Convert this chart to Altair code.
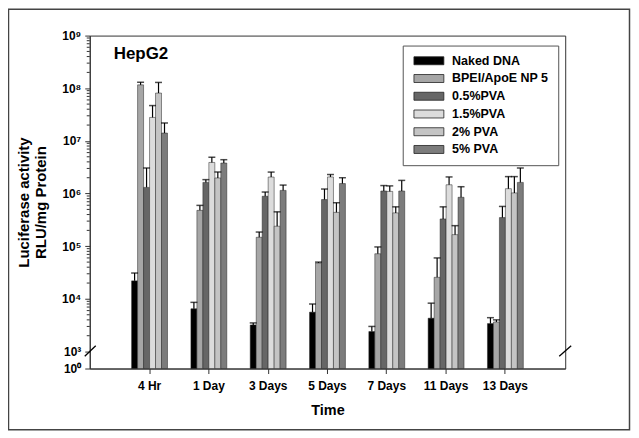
import altair as alt
import pandas as pd

times = ["4 Hr", "1 Day", "3 Days", "5 Days", "7 Days", "11 Days", "13 Days"]
series = ["Naked DNA", "BPEI/ApoE NP 5", "0.5%PVA", "1.5%PVA", "2% PVA", "5% PVA"]
colors = ["#000000", "#a6a6a6", "#666666", "#dcdcdc", "#c4c4c4", "#7c7c7c"]

naked_mean = [2.2e4, 6.5e3, 3.2e3, 5.6e3, 2.4e3, 4.3e3, 3.4e3]
naked_sd = [9.0e3, 2.1e3, 3.0e2, 2.4e3, 6.0e2, 4.0e3, 1.0e3]
bpei_mean = [1.16e8, 4.8e5, 1.48e5, 4.8e4, 7.2e4, 2.57e4, 3.65e3]
bpei_sd = [1.4e7, 1.17e5, 3.8e4, 2.0e3, 2.5e4, 3.43e4, 3.5e2]
pva05_mean = [1.31e6, 1.63e6, 8.9e5, 7.7e5, 1.12e6, 3.3e5, 3.5e5]
pva05_sd = [1.75e6, 2.1e5, 1.8e5, 4.5e5, 3.0e5, 2.3e5, 2.2e5]
pva15_mean = [2.79e7, 3.9e6, 2.06e6, 2.07e6, 1.1e6, 1.47e6, 1.24e6]
pva15_sd = [1.9e7, 1.0e6, 5.0e5, 2.3e5, 3.0e5, 6.0e5, 8.6e5]
pva2_mean = [8.1e7, 1.98e6, 2.4e5, 4.4e5, 4.3e5, 1.66e5, 1.03e6]
pva2_sd = [4.8e7, 5.9e5, 2.1e5, 2.3e5, 1.3e5, 8.0e4, 1.07e6]
pva5_mean = [1.41e7, 3.8e6, 1.15e6, 1.55e6, 1.12e6, 8.5e5, 1.63e6]
pva5_sd = [7.8e6, 6.0e5, 3.0e5, 4.5e5, 6.6e5, 5.0e5, 1.43e6]

means = [naked_mean, bpei_mean, pva05_mean, pva15_mean, pva2_mean, pva5_mean]
sds = [naked_sd, bpei_sd, pva05_sd, pva15_sd, pva2_sd, pva5_sd]

# axis break: 10^0 sits a short gap below 10^3
GAP = 0.322
major_ticks = [0] + [GAP + k for k in range(7)]
major_labels = ["10\u2070", "10\u00b3", "10\u2074", "10\u2075", "10\u2076", "10\u2077", "10\u2078", "10\u2079"]
minor_mult = [2, 3, 4, 5, 6, 7, 8, 9]
minor_decades = [3, 4, 5, 6, 7, 8]

rows = []
for s, m, sd in zip(series, means, sds):
    for t, v, e in zip(times, m, sd):
        rows.append({"time": t, "series": s, "mean": v, "sd": e})
df = pd.DataFrame(rows)

minor_df = pd.DataFrame({"v": [k * 10 ** e for e in minor_decades for k in minor_mult]})

FONT = "Liberation Sans"
W, H = 477, 334

label_expr = "[" + ",".join("'%s'" % l for l in major_labels) + "][datum.value < 0.1 ? 0 : round(datum.value - %s) + 1]" % GAP

yscale = alt.Scale(domain=[0, GAP + 6], nice=False, zero=True)
yaxis = alt.Axis(
    title=["Luciferase activity", "RLU/mg Protein"],
    values=major_ticks, labelExpr=label_expr, tickSize=5, labelPadding=4,
    labelFontSize=12, titleFontSize=15, titlePadding=13,
    labelOverlap=False, labelFlush=False, grid=False,
)
xscale = alt.Scale(paddingInner=0.395, paddingOuter=0.706)
xaxis = alt.Axis(title="Time", labelAngle=0, tickSize=5, labelPadding=7,
                 labelFontSize=12, titleFontSize=14.5, titlePadding=12, grid=False)


def X():
    return alt.X("time:N", sort=times, scale=xscale, axis=xaxis)


def XO():
    return alt.XOffset("series:N", sort=series, scale=alt.Scale(paddingInner=0, paddingOuter=0))


def Y(field):
    return alt.Y(field, scale=yscale, axis=yaxis)


base = alt.Chart(df).transform_calculate(
    d="log(datum.mean)/LN10 - 3 + %s" % GAP,
    dhi="log(datum.mean + datum.sd)/LN10 - 3 + %s" % GAP,
)

legend = alt.Legend(
    title=None, orient="none", legendX=314, legendY=10,
    symbolType="M-3.75,-1H3.75V1H-3.75Z", symbolSize=64,
    symbolStrokeColor="#222", symbolStrokeWidth=0.8, symbolOpacity=1,
    symbolOffset=11, labelOffset=17,
    labelFont=FONT, labelFontSize=12.5, labelFontWeight="bold", labelColor="black",
    strokeColor="#555", fillColor="white", padding=9, rowPadding=4.8,
)

bars = base.mark_bar(stroke="#222", strokeWidth=0.5).encode(
    x=X(), xOffset=XO(), y=Y("d:Q"),
    color=alt.Color("series:N", sort=series, scale=alt.Scale(domain=series, range=colors), legend=legend),
)
err = base.mark_rule(color="black", strokeWidth=1.2).encode(
    x=X(), xOffset=XO(), y=Y("d:Q"), y2="dhi:Q",
)
caps = base.mark_tick(color="black", thickness=1.5, size=7).encode(
    x=X(), xOffset=XO(), y=Y("dhi:Q"),
)

minor = alt.Chart(minor_df).transform_calculate(
    d="log(datum.v)/LN10 - 3 + %s" % GAP
).mark_rule(color="#333", strokeWidth=1).encode(
    y=Y("d:Q"), x=alt.value(-3), x2=alt.value(0)
)

brk = pd.DataFrame({"lo": [GAP - 0.09], "hi": [GAP + 0.11]})
slash_l = alt.Chart(brk).mark_rule(color="black", strokeWidth=1.3).encode(
    y=Y("lo:Q"), y2="hi:Q", x=alt.value(-5), x2=alt.value(6)
)
slash_r = alt.Chart(brk).mark_rule(color="black", strokeWidth=1.3).encode(
    y=Y("lo:Q"), y2="hi:Q", x=alt.value(W - 6), x2=alt.value(W + 6)
)

tag = alt.Chart(pd.DataFrame({"label": ["HepG2"]})).mark_text(
    align="left", baseline="alphabetic", fontSize=17, fontWeight="bold", font=FONT, color="black"
).encode(x=alt.value(24), y=alt.value(23), text="label:N")

frame = alt.Chart(pd.DataFrame({"a": [0]})).mark_rect(
    fillOpacity=0, stroke="#444", strokeWidth=1.5
).encode(x=alt.value(-81.5), x2=alt.value(541.5), y=alt.value(-26.5), y2=alt.value(395.5))

chart = alt.layer(frame, bars, err, caps, minor, slash_l, slash_r, tag).properties(
    width=W, height=H,
    autosize=alt.AutoSizeParams(type="none"),
    padding={"left": 82, "top": 27, "right": 66, "bottom": 63},
).configure_view(stroke="#333", strokeWidth=1).configure_axis(
    labelFont=FONT, labelFontWeight="bold", labelColor="black",
    titleFont=FONT, titleFontWeight="bold", titleColor="black",
    domainColor="#333", tickColor="#333",
)

chart.save("out.html", embed_options={"renderer": "svg", "actions": False})
